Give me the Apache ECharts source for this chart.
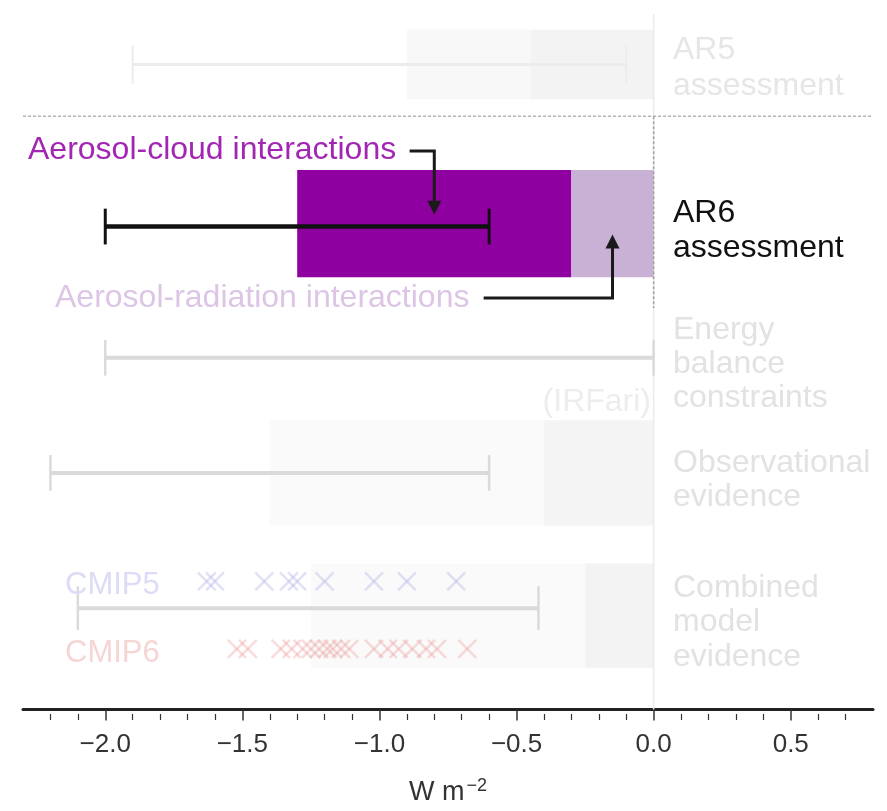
<!DOCTYPE html>
<html><head><meta charset="utf-8">
<script src="https://cdn.jsdelivr.net/npm/echarts@6/dist/echarts.min.js"></script>
<style>html,body{margin:0;padding:0;background:#fff}#c{width:887px;height:811px}</style>
</head><body><div id="c"></div>
<script>
// ---------------- data (W m-2) ----------------
const majorTicks = [-2.0, -1.5, -1.0, -0.5, 0.0, 0.5];
const minorTicks = [-2.2,-2.1,-1.9,-1.8,-1.7,-1.6,-1.4,-1.3,-1.2,-1.1,-0.9,-0.8,-0.7,-0.6,-0.4,-0.3,-0.2,-0.1,0.1,0.2,0.3,0.4,0.6,0.7];
const rowLabels = [['AR5','assessment'],['AR6','assessment'],['Energy','balance','constraints'],['Observational','evidence'],['Combined','model','evidence']];
const ar5Range = [-1.9, -0.1];
const ar5Shade = [-0.9, -0.45, 0.0];
const ar6Range = [-2.0, -0.6];
const ar6Aci = [-1.3, -0.3];
const ar6Ari = [-0.3, 0.0];
const energyRange = [-2.0, 0.0];
const obsRange = [-2.2, -0.6];
const obsShade = [-1.4, -0.4, 0.0];
const modelRange = [-2.1, -0.42];
const modelShade = [-1.25, -0.25, 0.0];
const cmip5 = [-1.63, -1.60, -1.42, -1.33, -1.30, -1.20, -1.02, -0.90, -0.72];
const cmip6 = [-1.52, -1.48, -1.36, -1.32, -1.28, -1.25, -1.22, -1.19, -1.17, -1.14, -1.11, -1.02, -0.97, -0.93, -0.88, -0.83, -0.79, -0.68];
// annotation arrows: [x where text-line starts, x of arrow shaft]
const aciArrow = [-0.89, -0.80];
const ariArrow = [-0.62, -0.15];

// ---------------- layout (vertical layout units, top-down) ----------------
const L = {
  ar5: {y: 65, cap: 19, box: [30, 100]},
  sep: 117,
  ar6: {y: 228, cap: 18, bar: [171, 279]},
  energy: {y: 360, cap: 18},
  obs: {y: 476, cap: 18, box: [423, 529]},
  model: {y: 612, cap: 22, box: [567, 672], c5: 585, c6: 653},
  aciArrowY: [152, 216],
  ariArrowY: [300, 236],
  zero: [14, 714], zeroDash: [117, 310]
};
const FONT = '"Liberation Sans", Arial, sans-serif';

function rectSeries(items, fills, z) {
  return {
    type: 'custom', z: z || 1, silent: true, clip: false,
    data: items,
    renderItem: function (p, api) {
      const a = api.coord([api.value(0), api.value(2)]);
      const b = api.coord([api.value(1), api.value(3)]);
      return {type: 'rect', shape: {x: a[0], y: a[1], width: b[0] - a[0], height: b[1] - a[1]},
        style: {fill: fills[p.dataIndex]}};
    }
  };
}
function errSeries(items, color, lw, capLw, z) {
  return {
    type: 'custom', z: z || 3, silent: true, clip: false,
    data: items,
    renderItem: function (p, api) {
      const y = api.value(2), h = api.value(3);
      const a = api.coord([api.value(0), y]);
      const b = api.coord([api.value(1), y]);
      const t = api.coord([api.value(0), y - h])[1];
      const bt = api.coord([api.value(0), y + h])[1];
      return {type: 'group', children: [
        {type: 'line', shape: {x1: a[0], y1: a[1], x2: b[0], y2: b[1]}, style: {stroke: color, lineWidth: lw}},
        {type: 'line', shape: {x1: a[0], y1: t, x2: a[0], y2: bt}, style: {stroke: color, lineWidth: capLw}},
        {type: 'line', shape: {x1: b[0], y1: t, x2: b[0], y2: bt}, style: {stroke: color, lineWidth: capLw}}
      ]};
    }
  };
}
function crossSeries(vals, y, color) {
  return {
    type: 'custom', z: 4, silent: true, clip: false,
    data: vals.map(v => [v, y]),
    renderItem: function (p, api) {
      const c = api.coord([api.value(0), api.value(1)]);
      const w = 9, h = 9;
      return {type: 'group', children: [
        {type: 'line', shape: {x1: c[0] - w, y1: c[1] - h, x2: c[0] + w, y2: c[1] + h}, style: {stroke: color, lineWidth: 2.6}},
        {type: 'line', shape: {x1: c[0] - w, y1: c[1] + h, x2: c[0] + w, y2: c[1] - h}, style: {stroke: color, lineWidth: 2.6}}
      ]};
    }
  };
}
function lineSeries(items, color, lw, dash, z) {
  return {
    type: 'custom', z: z || 2, silent: true, clip: false,
    data: items,
    renderItem: function (p, api) {
      const a = api.coord([api.value(0), api.value(2)]);
      const b = api.coord([api.value(1), api.value(3)]);
      return {type: 'line', shape: {x1: a[0], y1: a[1], x2: b[0], y2: b[1]},
        style: {stroke: color, lineWidth: lw, lineDash: dash || null}};
    }
  };
}
function arrowSeries(items) {
  return {
    type: 'custom', z: 6, silent: true, clip: false,
    data: items,
    renderItem: function (p, api) {
      const s = api.coord([api.value(0), api.value(2)]);
      const c = api.coord([api.value(1), api.value(2)]);
      const tip = api.coord([api.value(1), api.value(3)]);
      const dir = tip[1] > c[1] ? 1 : -1;
      const hl = 14, hw = 7;
      return {type: 'group', children: [
        {type: 'polyline', shape: {points: [s, c, [tip[0], tip[1] - dir * hl + dir * 2]]}, style: {stroke: '#1a1a1a', lineWidth: 3, fill: null}},
        {type: 'polygon', shape: {points: [[tip[0], tip[1]], [tip[0] - hw, tip[1] - dir * hl], [tip[0] + hw, tip[1] - dir * hl]]}, style: {fill: '#1a1a1a'}}
      ]};
    }
  };
}

const series = [
  rectSeries([[ar5Shade[0], ar5Shade[1], L.ar5.box[0], L.ar5.box[1]], [ar5Shade[1], ar5Shade[2], L.ar5.box[0], L.ar5.box[1]],
              [obsShade[0], obsShade[1], L.obs.box[0], L.obs.box[1]], [obsShade[1], obsShade[2], L.obs.box[0], L.obs.box[1]],
              [modelShade[0], modelShade[1], L.model.box[0], L.model.box[1]], [modelShade[1], modelShade[2], L.model.box[0], L.model.box[1]]],
             ['#f8f8f8', '#f3f3f3', '#fafafa', '#f4f4f4', '#fafafa', '#f3f3f3'], 1),
  lineSeries([[0, 0, L.zero[0], L.zero[1]]], '#ebebeb', 1.5, null, 2),
  lineSeries([[-2.3, 0.8, L.sep, L.sep]], '#b4b4b4', 1.5, [3, 2], 2),
  errSeries([[ar5Range[0], ar5Range[1], L.ar5.y, L.ar5.cap]], '#ececec', 3, 2),
  errSeries([[energyRange[0], energyRange[1], L.energy.y, L.energy.cap],
             [obsRange[0], obsRange[1], L.obs.y, L.obs.cap],
             [modelRange[0], modelRange[1], L.model.y, L.model.cap]], '#dadada', 4, 2.5),
  rectSeries([[ar6Aci[0], ar6Aci[1], L.ar6.bar[0], L.ar6.bar[1]], [ar6Ari[0], ar6Ari[1], L.ar6.bar[0], L.ar6.bar[1]]],
             ['#8f00a0', '#c9b1d5'], 3),
  lineSeries([[0, 0, L.zeroDash[0], L.zeroDash[1]]], '#a0a0a0', 1.5, [3, 2], 4),
  errSeries([[ar6Range[0], ar6Range[1], L.ar6.y, L.ar6.cap]], '#111111', 4.5, 3, 5),
  crossSeries(cmip5, L.model.c5, 'rgba(180,180,235,0.38)'),
  crossSeries(cmip6, L.model.c6, 'rgba(235,150,150,0.32)'),
  arrowSeries([[aciArrow[0], aciArrow[1], L.aciArrowY[0], L.aciArrowY[1]],
               [ariArrow[0], ariArrow[1], L.ariArrowY[0], L.ariArrowY[1]]])
];

// ---------------- texts ----------------
function txt(s, x, y, color, size, align) {
  return {type: 'text', x: x, y: y, z: 10, silent: true,
    style: {text: s, fill: color, fontSize: size || 32, fontFamily: FONT, textAlign: align || 'left', textVerticalAlign: 'middle'}};
}
const labelY = [[50, 86], [213, 248], [330, 364, 398], [463, 497], [588, 622, 657]];
const labelColor = ['#e6e6e6', '#111111', '#e2e2e2', '#e2e2e2', '#e2e2e2'];
const graphics = [];
rowLabels.forEach((lines, i) => lines.forEach((ln, j) => graphics.push(txt(ln, 673, labelY[i][j], labelColor[i]))));
graphics.push(txt('Aerosol-cloud interactions', 28, 150, '#a226b3'));
graphics.push(txt('Aerosol-radiation interactions', 55, 298, '#dcc5e5'));
graphics.push(txt('(IRFari)', 651, 402, '#ededed', 32, 'right'));
graphics.push(txt('CMIP5', 65, 585, '#dcdcf6', 31));
graphics.push(txt('CMIP6', 65, 653, '#f6d5d5', 31));

const fmt = v => (v < 0 ? '\u2212' : '') + Math.abs(v).toFixed(1);
const gridBox = {left: 23, right: 14, top: 0, bottom: 97, containLabel: false};

const option = {
  animation: false,
  backgroundColor: '#fff',
  grid: [Object.assign({}, gridBox), Object.assign({}, gridBox)],
  xAxis: [{
    gridIndex: 0, type: 'value', min: -2.3, max: 0.8, position: 'bottom',
    axisLine: {show: true, onZero: false, lineStyle: {color: '#222', width: 3}},
    axisTick: {show: true, customValues: majorTicks, length: 11, lineStyle: {color: '#333', width: 1.5}},
    axisLabel: {customValues: majorTicks, formatter: fmt, fontSize: 26, color: '#333', margin: 22, fontFamily: FONT},
    splitLine: {show: false},
    name: 'W m{sup|\u22122}', nameLocation: 'middle', nameGap: 68,
    nameTextStyle: {fontSize: 27, color: '#333', fontFamily: FONT,
      rich: {sup: {fontSize: 18, color: '#333', fontFamily: FONT, verticalAlign: 'top', padding: [0, 0, 12, 2]}}}
  }, {
    gridIndex: 1, type: 'value', min: -2.3, max: 0.8, position: 'bottom',
    axisLine: {show: false, onZero: false},
    axisTick: {show: true, customValues: minorTicks, length: 6, lineStyle: {color: '#333', width: 1.2}},
    axisLabel: {show: false}, splitLine: {show: false}
  }],
  yAxis: [
    {gridIndex: 0, type: 'value', min: 0, max: 714, inverse: true, show: false, splitLine: {show: false}},
    {gridIndex: 1, type: 'value', min: 0, max: 714, inverse: true, show: false, splitLine: {show: false}}
  ],
  graphic: graphics,
  series: series
};
const chart = echarts.init(document.getElementById('c'), null, {renderer: 'canvas'});
chart.setOption(option);
</script>
</body></html>
